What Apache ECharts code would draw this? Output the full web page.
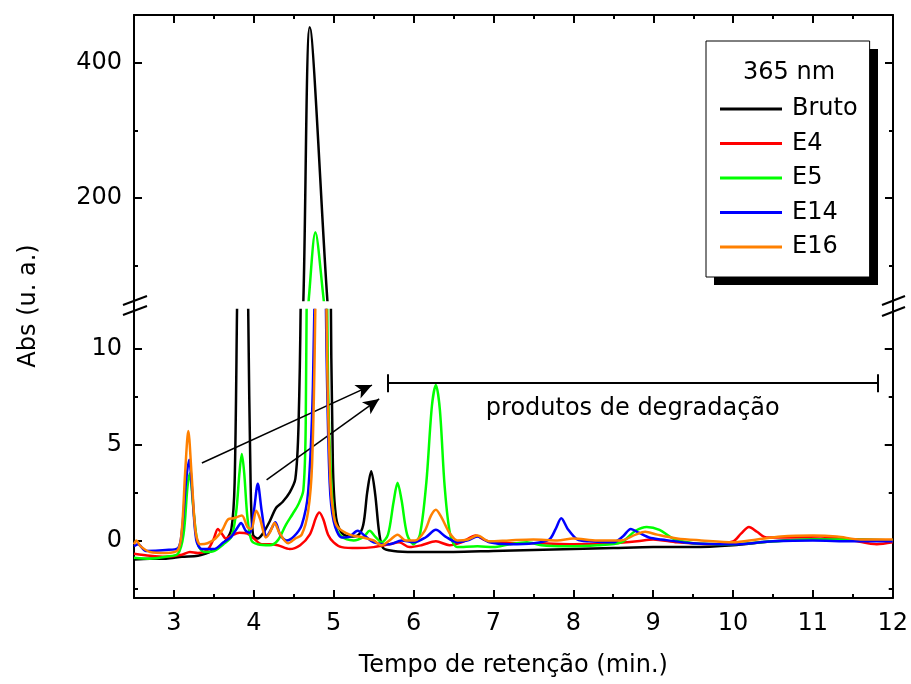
<!DOCTYPE html>
<html><head><meta charset="utf-8">
<script src="https://cdn.jsdelivr.net/npm/echarts@6/dist/echarts.min.js"></script>
<style>html,body{margin:0;padding:0;background:#fff}#c{width:911px;height:684px}</style>
</head><body><div id="c"></div>
<script>
const seriesNames = ['Bruto', 'E4', 'E5', 'E14', 'E16'];
const seriesColors = ['#000000', '#ff0000', '#00ff00', '#0000ff', '#ff8000'];

const bruto = [[2.5,-1.0],[2.7,-0.95],[2.9,-0.95],[3.1,-0.85],[3.3,-0.8],[3.45,-0.6],[3.55,-0.4],[3.65,0.0],[3.72,0.6],[3.76,3],[3.79,12],[3.82,22],[3.86,28],[3.9,22],[3.93,12],[3.96,3],[3.99,0.3],[4.05,0.1],[4.12,0.4],[4.2,1.0],[4.28,1.7],[4.36,2.0],[4.45,2.5],[4.52,3.2],[4.56,6],[4.59,14],[4.62,50],[4.70,452],[4.92,50],[4.96,15],[4.99,4],[5.03,1.2],[5.1,0.4],[5.2,0.2],[5.3,0.25],[5.37,0.8],[5.42,2.5],[5.47,3.6],[5.52,2.4],[5.57,0.4],[5.62,-0.4],[5.75,-0.55],[6.0,-0.6],[6.5,-0.6],[7.0,-0.55],[7.5,-0.5],[8.0,-0.45],[8.5,-0.4],[9.0,-0.35],[9.5,-0.35],[10.0,-0.25],[10.5,-0.05],[11.0,0.05],[11.5,0.05],[12.0,0.0]];

const e4 = [[2.5,-0.7],[2.7,-0.8],[2.9,-0.85],[3.1,-0.75],[3.2,-0.6],[3.3,-0.65],[3.42,-0.5],[3.5,0.1],[3.55,0.6],[3.6,0.35],[3.65,0.1],[3.72,0.25],[3.82,0.4],[3.92,0.35],[4.0,0.1],[4.1,-0.2],[4.2,-0.2],[4.3,-0.25],[4.45,-0.45],[4.58,-0.25],[4.7,0.3],[4.78,1.2],[4.82,1.45],[4.87,1.1],[4.93,0.3],[5.0,-0.1],[5.1,-0.35],[5.3,-0.4],[5.5,-0.35],[5.7,-0.2],[5.82,-0.1],[5.95,-0.35],[6.1,-0.25],[6.28,-0.05],[6.45,-0.25],[6.6,-0.1],[6.78,0.25],[6.9,0.0],[7.1,-0.15],[7.5,-0.15],[8.0,-0.2],[8.5,-0.15],[8.8,-0.05],[9.0,0.05],[9.3,-0.1],[9.7,-0.2],[10.0,-0.05],[10.1,0.35],[10.2,0.7],[10.3,0.45],[10.42,0.15],[10.7,0.15],[11.1,0.2],[11.5,0.0],[11.8,-0.2],[12.0,-0.1]];

const e5 = [[2.5,-0.9],[2.7,-0.95],[2.9,-0.85],[3.05,-0.7],[3.12,0.3],[3.17,2.8],[3.2,3.5],[3.24,1.8],[3.3,-0.2],[3.38,-0.6],[3.5,-0.55],[3.62,-0.2],[3.72,0.2],[3.78,1.5],[3.82,3.5],[3.85,4.5],[3.88,3.5],[3.92,1.2],[3.97,0.0],[4.05,-0.2],[4.2,-0.25],[4.3,0.0],[4.4,0.8],[4.49,1.4],[4.56,1.9],[4.62,2.6],[4.65,6],[4.67,20],[4.69,55],[4.77,150],[4.87,55],[4.9,22],[4.93,8],[4.97,3],[5.02,0.8],[5.1,0.2],[5.25,0.0],[5.38,0.2],[5.45,0.5],[5.52,0.2],[5.6,-0.1],[5.68,0.3],[5.75,2.0],[5.8,3.0],[5.85,2.1],[5.92,0.3],[6.0,-0.2],[6.08,0.3],[6.16,3.0],[6.23,7.0],[6.28,8.1],[6.33,6.8],[6.39,2.8],[6.46,0.3],[6.55,-0.35],[6.8,-0.3],[7.0,-0.35],[7.2,-0.2],[7.42,-0.1],[7.6,-0.25],[7.9,-0.3],[8.3,-0.25],[8.6,-0.1],[8.78,0.5],[8.92,0.7],[9.08,0.55],[9.25,0.1],[9.5,-0.15],[10.0,-0.2],[10.5,-0.05],[11.0,0.05],[11.5,0.05],[12.0,0.0]];

const e14 = [[2.5,-0.3],[2.55,-0.2],[2.65,-0.55],[2.9,-0.5],[3.05,-0.4],[3.1,0.5],[3.15,3.0],[3.19,4.2],[3.23,2.5],[3.28,0.0],[3.35,-0.45],[3.5,-0.45],[3.62,-0.1],[3.72,0.2],[3.8,0.7],[3.84,0.9],[3.9,0.5],[3.95,0.4],[4.0,1.5],[4.05,2.95],[4.1,1.5],[4.16,0.2],[4.22,0.6],[4.27,0.95],[4.33,0.3],[4.41,0.0],[4.5,0.2],[4.6,0.8],[4.68,2.5],[4.74,8],[4.79,20],[4.83,28],[4.87,22],[4.91,10],[4.95,3],[5.0,1.0],[5.1,0.15],[5.2,0.2],[5.3,0.5],[5.4,0.2],[5.5,-0.1],[5.7,-0.2],[5.85,0.0],[6.0,-0.1],[6.15,0.15],[6.28,0.55],[6.4,0.2],[6.55,-0.1],[6.68,0.0],[6.8,0.2],[6.95,-0.1],[7.2,-0.2],[7.5,-0.15],[7.7,0.05],[7.78,0.6],[7.85,1.15],[7.93,0.6],[8.05,0.05],[8.2,-0.05],[8.5,-0.1],[8.62,0.2],[8.72,0.6],[8.82,0.4],[8.95,0.15],[9.1,0.05],[9.5,-0.15],[10.0,-0.2],[10.5,-0.05],[11.0,0.0],[11.5,-0.05],[12.0,-0.05]];

const e16 = [[2.5,-0.2],[2.53,0.0],[2.58,-0.3],[2.7,-0.6],[2.9,-0.65],[3.05,-0.5],[3.1,0.6],[3.14,3.5],[3.18,5.7],[3.22,3.5],[3.27,0.5],[3.33,-0.2],[3.42,-0.15],[3.52,0.1],[3.6,0.5],[3.68,1.1],[3.75,1.15],[3.85,1.3],[3.92,0.7],[3.97,0.6],[4.03,1.55],[4.08,1.1],[4.15,0.15],[4.2,0.4],[4.26,0.9],[4.32,0.4],[4.43,-0.15],[4.52,0.1],[4.6,0.3],[4.68,1.5],[4.73,4],[4.77,12],[4.81,30],[4.84,35],[4.88,22],[4.92,9],[4.96,3],[5.0,1.3],[5.05,0.7],[5.2,0.3],[5.37,0.15],[5.5,0.0],[5.6,-0.25],[5.7,0.0],[5.8,0.3],[5.9,0.0],[6.02,0.0],[6.14,0.5],[6.22,1.3],[6.28,1.6],[6.35,1.2],[6.45,0.4],[6.55,0.0],[6.68,0.05],[6.8,0.25],[6.95,-0.05],[7.2,0.0],[7.5,0.05],[7.8,0.0],[8.0,0.1],[8.3,0.0],[8.6,0.0],[8.78,0.3],[8.9,0.45],[9.05,0.3],[9.3,0.1],[9.6,0.0],[10.0,-0.1],[10.3,0.05],[10.6,0.2],[11.0,0.25],[11.3,0.2],[11.6,0.05],[12.0,0.05]];

const xMajorTicks = [3, 4, 5, 6, 7, 8, 9, 10, 11, 12];
const xMinorTicks = [3.5, 4.5, 5.5, 6.5, 7.5, 8.5, 9.5, 10.5, 11.5];
const upperMajorTicks = [200, 400];
const upperMinorTicks = [100, 300];
const lowerMajorTicks = [0, 5, 10];
const lowerMinorTicks = [-2.5, 2.5, 7.5];
const arrowStarts = [[3.35, 4.03], [4.16, 3.15]];
const arrowEnds = [[5.48, 8.09], [5.57, 7.37]];
const bracketX = [5.68, 11.81];
const bracketY = 8.2;
const bracketCap = [7.72, 8.65];
const annotationText = 'produtos de degradação';
const legendTitle = '365 nm';
const xTitle = 'Tempo de retenção (min.)';
const yTitle = 'Abs (u. a.)';

const allData = [bruto, e4, e5, e14, e16];
const FONT = 'DejaVu Sans';

const chart = echarts.init(document.getElementById('c'), null, {renderer: 'canvas'});

const gridL = 134, gridR = 18;
const grids = [
  {left: gridL, right: gridR, top: 15, height: 285},
  {left: gridL, right: gridR, top: 310, height: 288}
];

function xAx(grid, pos, ticks, len, showLine, labels, extra) {
  return Object.assign({
    type: 'value', gridIndex: grid, position: pos, min: 2.5, max: 12,
    axisLine: {show: showLine, onZero: false, lineStyle: {color: '#000', width: 2}},
    axisTick: {show: true, inside: true, length: len, customValues: ticks, lineStyle: {color: '#000', width: 2}},
    axisLabel: labels ? {show: true, customValues: labels, fontFamily: FONT, fontSize: 24, color: '#000', margin: 14} : {show: false},
    splitLine: {show: false}
  }, extra || {});
}
function yAx(grid, pos, min, max, ticks, len, showLine, labels) {
  return {
    type: 'value', gridIndex: grid, position: pos, min: min, max: max,
    axisLine: {show: showLine, onZero: false, lineStyle: {color: '#000', width: 2}},
    axisTick: {show: true, inside: true, length: len, customValues: ticks, lineStyle: {color: '#000', width: 2}},
    axisLabel: labels ? {show: true, customValues: labels, fontFamily: FONT, fontSize: 24, color: '#000', margin: 12} : {show: false},
    splitLine: {show: false}
  };
}

const xAxes = [
  xAx(0, 'top', xMajorTicks, 8, true, null),
  xAx(0, 'top', xMinorTicks, 4, false, null),
  xAx(1, 'bottom', xMajorTicks, 8, true, xMajorTicks, {
    name: xTitle, nameLocation: 'middle', nameGap: 56,
    nameTextStyle: {fontFamily: FONT, fontSize: 24, color: '#000'}
  }),
  xAx(1, 'bottom', xMinorTicks, 4, false, null)
];
const yAxes = [
  yAx(0, 'left', 50, 470, upperMajorTicks, 8, true, upperMajorTicks),
  yAx(0, 'right', 50, 470, upperMajorTicks, 8, true, null),
  yAx(0, 'left', 50, 470, upperMinorTicks, 4, false, null),
  yAx(0, 'right', 50, 470, upperMinorTicks, 4, false, null),
  yAx(1, 'left', -3, 12, lowerMajorTicks, 8, true, lowerMajorTicks),
  yAx(1, 'right', -3, 12, lowerMajorTicks, 8, true, null),
  yAx(1, 'left', -3, 12, lowerMinorTicks, 4, false, null),
  yAx(1, 'right', -3, 12, lowerMinorTicks, 4, false, null)
];

const series = [];
allData.forEach((d, i) => {
  const base = {
    type: 'line', name: seriesNames[i], data: d, symbol: 'none', showSymbol: false, smooth: 0.3,
    clip: true, lineStyle: {color: seriesColors[i], width: 2.5}, itemStyle: {color: seriesColors[i]},
    z: 2 + i, animation: false, silent: true
  };
  series.push(Object.assign({}, base, {xAxisIndex: 0, yAxisIndex: 0}));
  series.push(Object.assign({}, base, {xAxisIndex: 2, yAxisIndex: 4}));
});

series.push({
  type: 'line', name: '_annot', data: [], xAxisIndex: 2, yAxisIndex: 4, symbol: 'none',
  z: 20, silent: true, animation: false,
  markLine: {
    silent: true, animation: false, symbol: ['none', 'arrow'], symbolSize: [11, 16],
    lineStyle: {color: '#000', width: 1.5, type: 'solid'},
    label: {show: false},
    emphasis: {disabled: true},
    data: [
      [{coord: arrowStarts[0]}, {coord: arrowEnds[0]}],
      [{coord: arrowStarts[1]}, {coord: arrowEnds[1]}],
      [{coord: [bracketX[0], bracketY], symbol: 'none', lineStyle: {width: 2, color: '#000'},
        label: {show: true, position: 'insideMiddleBottom', formatter: annotationText, distance: 14,
                fontFamily: FONT, fontSize: 24, color: '#000'}},
       {coord: [bracketX[1], bracketY], symbol: 'none'}],
      [{coord: [bracketX[0], bracketCap[0]], symbol: 'none', lineStyle: {width: 2, color: '#000'}}, {coord: [bracketX[0], bracketCap[1]], symbol: 'none'}],
      [{coord: [bracketX[1], bracketCap[0]], symbol: 'none', lineStyle: {width: 2, color: '#000'}}, {coord: [bracketX[1], bracketCap[1]], symbol: 'none'}]
    ]
  }
});

chart.setOption({
  backgroundColor: '#fff',
  animation: false,
  grid: grids,
  xAxis: xAxes,
  yAxis: yAxes,
  legend: {
    data: seriesNames.map((n, i) => ({name: n, icon: 'rect', itemStyle: {color: seriesColors[i]}})),
    orient: 'vertical', left: 706, top: 41,
    padding: [56, 12, 18, 14], itemGap: 10.5, itemWidth: 62, itemHeight: 3,
    selectedMode: false, backgroundColor: '#fff', borderColor: '#000', borderWidth: 1,
    textStyle: {fontFamily: FONT, fontSize: 24, color: '#000', padding: [0, 0, 0, 5]},
    z: 10
  },
  graphic: [
    {type: 'rect', shape: {x: 714, y: 49, width: 164, height: 236}, style: {fill: '#000'}, z: 1, silent: true},
    {type: 'text', x: 789, y: 73, z: 100, style: {text: legendTitle, fontFamily: FONT, fontSize: 24, fill: '#000', textAlign: 'center', textVerticalAlign: 'middle'}, silent: true},
    {type: 'text', x: 29, y: 306, rotation: Math.PI / 2, z: 100, style: {text: yTitle, fontFamily: FONT, fontSize: 24, fill: '#000', textAlign: 'center', textVerticalAlign: 'middle'}, silent: true},
    {type: 'line', shape: {x1: 134, y1: 299, x2: 134, y2: 311}, style: {stroke: '#000', lineWidth: 2}, z: 100, silent: true},
    {type: 'line', shape: {x1: 893, y1: 299, x2: 893, y2: 311}, style: {stroke: '#000', lineWidth: 2}, z: 100, silent: true},
    {type: 'line', shape: {x1: 123, y1: 305, x2: 147, y2: 296}, style: {stroke: '#000', lineWidth: 2}, z: 100, silent: true},
    {type: 'line', shape: {x1: 123, y1: 315, x2: 147, y2: 306}, style: {stroke: '#000', lineWidth: 2}, z: 100, silent: true},
    {type: 'line', shape: {x1: 882, y1: 305, x2: 905, y2: 296}, style: {stroke: '#000', lineWidth: 2}, z: 100, silent: true},
    {type: 'line', shape: {x1: 882, y1: 316, x2: 905, y2: 307}, style: {stroke: '#000', lineWidth: 2}, z: 100, silent: true}
  ],
  series: series
});
</script>
</body></html>
